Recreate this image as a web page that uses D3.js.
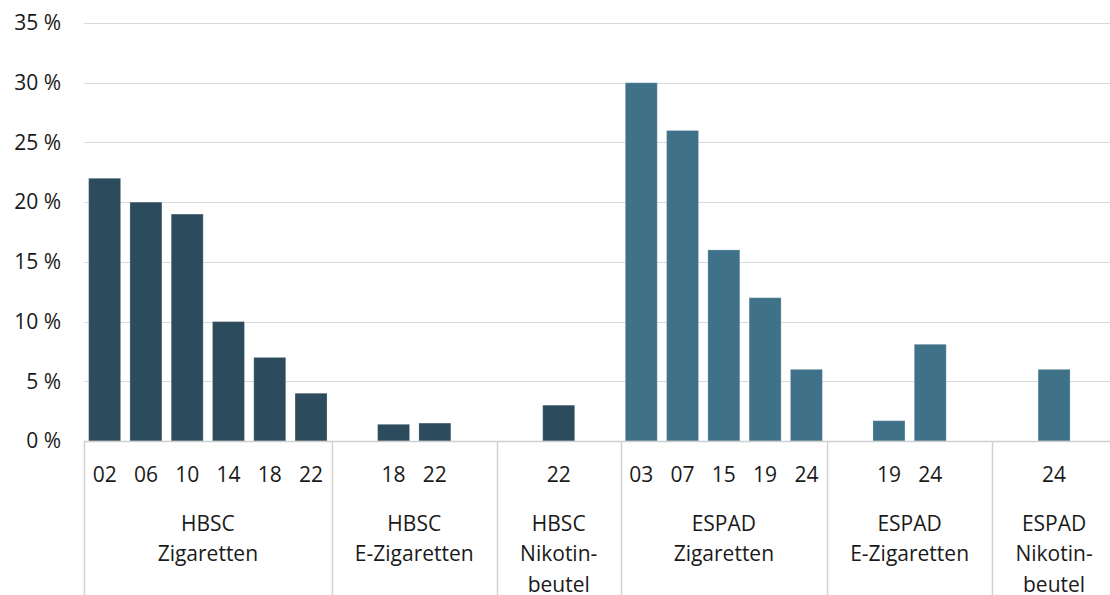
<!DOCTYPE html>
<html>
<head>
<meta charset="utf-8">
<script src="https://cdn.jsdelivr.net/npm/d3@7"></script>
<style>
  html, body { margin: 0; padding: 0; background: #ffffff; overflow: hidden; }
  svg { display: block; }
  text { font-family: "Open Sans", "Noto Sans", sans-serif; fill: #1a1a1a; }
</style>
</head>
<body>
<svg id="chart" width="1110" height="595"></svg>
<script>
// ---- Data ----
const groupSurvey = ["HBSC", "HBSC", "HBSC", "ESPAD", "ESPAD", "ESPAD"];
const groupLabels = [
  ["HBSC", "Zigaretten"],
  ["HBSC", "E-Zigaretten"],
  ["HBSC", "Nikotin-", "beutel"],
  ["ESPAD", "Zigaretten"],
  ["ESPAD", "E-Zigaretten"],
  ["ESPAD", "Nikotin-", "beutel"]
];
const groupYears = [
  ["02", "06", "10", "14", "18", "22"],
  ["", "18", "22", ""],
  ["", "22", ""],
  ["03", "07", "15", "19", "24"],
  ["", "19", "24", ""],
  ["", "24", ""]
];
const groupValues = [
  [22, 20, 19, 10, 7, 4],
  [null, 1.4, 1.5, null],
  [null, 3.0, null],
  [30, 26, 16, 12, 6],
  [null, 1.7, 8.1, null],
  [null, 6, null]
];
const yTicks = [0, 5, 10, 15, 20, 25, 30, 35];
const surveyColors = { HBSC: "#2c4b5c", ESPAD: "#3f7189" };

// ---- Build slots ----
const slots = [];
const groupSpans = [];
groupYears.forEach((years, g) => {
  const start = slots.length;
  years.forEach((yr, i) => {
    slots.push({ id: "s" + slots.length, group: g, year: yr, value: groupValues[g][i], survey: groupSurvey[g] });
  });
  groupSpans.push({ g, start, end: slots.length - 1 });
});

// ---- Layout ----
const svg = d3.select("#chart");
const plotLeft = 84, plotRight = 1116, plotTop = 23, baseY = 441;

const x = d3.scaleBand()
  .domain(slots.map(d => d.id))
  .range([plotLeft, plotRight])
  .paddingInner(0.225)
  .paddingOuter(0.1125);

const y = d3.scaleLinear().domain([0, 35]).range([baseY, plotTop]);

// Gridlines
svg.append("g")
  .selectAll("line")
  .data(yTicks.filter(t => t > 0))
  .join("line")
  .attr("x1", plotLeft).attr("x2", 1110)
  .attr("y1", d => Math.round(y(d)) + 0.5).attr("y2", d => Math.round(y(d)) + 0.5)
  .attr("stroke", "#d9d9d9").attr("stroke-width", 1);

// Y labels
const yAxis = d3.axisLeft(y).tickValues(yTicks).tickFormat(d => d + " %").tickSize(0).tickPadding(0);
const gy = svg.append("g").attr("transform", "translate(61,0)").call(yAxis);
gy.select(".domain").remove();
gy.selectAll("text")
  .attr("font-size", 21)
  .attr("font-family", "'Open Sans', sans-serif")
  .attr("fill", "#1a1a1a");

// Bars
svg.append("g")
  .selectAll("rect")
  .data(slots.filter(d => d.value != null))
  .join("rect")
  .attr("x", d => x(d.id))
  .attr("width", x.bandwidth())
  .attr("y", d => y(d.value))
  .attr("height", d => y(0) - y(d.value))
  .attr("fill", d => surveyColors[d.survey])
  .attr("stroke", "rgba(255,255,255,0.25)")
  .attr("stroke-width", 1);

// Baseline axis
svg.append("line")
  .attr("x1", plotLeft).attr("x2", 1110)
  .attr("y1", baseY + 0.5).attr("y2", baseY + 0.5)
  .attr("stroke", "#d0d0d0").attr("stroke-width", 1.5);

// Group separators
const step = x.step();
const bounds = [plotLeft].concat(groupSpans.map(s => plotLeft + (s.end + 1) * step));
svg.append("g")
  .selectAll("line")
  .data(bounds)
  .join("line")
  .attr("x1", d => Math.round(d) + 0.5).attr("x2", d => Math.round(d) + 0.5)
  .attr("y1", baseY).attr("y2", 600)
  .attr("stroke", "#d0d0d0").attr("stroke-width", 1.5);

// Year labels
svg.append("g")
  .selectAll("text")
  .data(slots.filter(d => d.year !== ""))
  .join("text")
  .attr("x", d => x(d.id) + x.bandwidth() / 2)
  .attr("y", 481.5)
  .attr("text-anchor", "middle")
  .attr("font-size", 21)
  .text(d => d.year);

// Group labels
const gl = svg.append("g")
  .selectAll("text")
  .data(groupSpans)
  .join("text")
  .attr("x", s => plotLeft + (s.start + (s.end + 1)) / 2 * step)
  .attr("y", 530.5)
  .attr("text-anchor", "middle")
  .attr("font-size", 21);
gl.each(function(s) {
  const t = d3.select(this);
  groupLabels[s.g].forEach((line, i) => {
    t.append("tspan")
      .attr("x", plotLeft + (s.start + (s.end + 1)) / 2 * step)
      .attr("dy", i === 0 ? 0 : 30.8)
      .text(line);
  });
});
</script>
</body>
</html>
